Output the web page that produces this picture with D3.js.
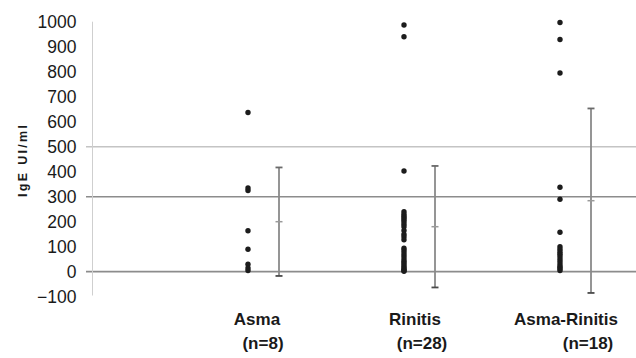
<!DOCTYPE html>
<html>
<head>
<meta charset="utf-8">
<script src="https://cdn.jsdelivr.net/npm/d3@7"></script>
<style>
  html, body { margin: 0; padding: 0; background: #fff; }
  svg { display: block; font-family: "Liberation Sans", Arial, sans-serif; }
</style>
</head>
<body>
<svg id="chart" width="636" height="358"></svg>
<script>
// Groups and their sizes
const categories = ["Asma", "Rinitis", "Asma-Rinitis"];
const groupSizes = ["(n=8)", "(n=28)", "(n=18)"];

// Individual IgE values (UI/ml) per group
const asmaValues = [637, 335, 325, 164, 90, 30, 15, 5];
const rinitisValues = [987, 940, 403, 240, 230, 222, 215, 208, 200, 190, 180, 165, 150, 140, 128,
                       94, 85, 75, 65, 55, 45, 38, 30, 22, 15, 10, 5, 2];
const asmaRinitisValues = [997, 929, 795, 338, 290, 158, 100, 90, 80, 72, 65, 55, 45, 35, 25, 18, 12, 5];

// Group mean and standard deviation
const means = [200, 180, 284];
const sds = [217, 243, 369];

// Horizontal reference levels
const refLevels = [500, 300, 0];

// Y axis tick labels
const yTicks = [-100, 0, 100, 200, 300, 400, 500, 600, 700, 800, 900, 1000];

const seriesValues = [asmaValues, rinitisValues, asmaRinitisValues];

const svg = d3.select("#chart");
const axisX = 92.5;
const errOffset = 31;
const labelDx = [9, 11, 6];
const nLabelDx = [15, 18, 28];

const y = d3.scaleLinear().domain([-100, 1000]).range([296.7, 21.7]);
const x = d3.scalePoint().domain(categories).range([248, 560]);

// Reference lines
const refStyle = {500: ["#c4c4c4", 1.5], 300: ["#8c8c8c", 1.6], 0: ["#8c8c8c", 1.8]};
svg.append("g").selectAll("line").data(refLevels).join("line")
  .attr("x1", 86).attr("x2", 636)
  .attr("y1", d => y(d)).attr("y2", d => y(d))
  .attr("stroke", d => refStyle[d][0])
  .attr("stroke-width", d => refStyle[d][1]);

// Y axis
const yAxis = d3.axisLeft(y).tickValues(yTicks).tickSize(0).tickPadding(16)
  .tickFormat(d3.format("d"));
const gy = svg.append("g").attr("transform", `translate(${axisX},0)`).call(yAxis);
gy.select(".domain").remove();
gy.selectAll("text")
  .attr("font-family", "'Liberation Sans', Arial, sans-serif")
  .attr("font-size", 17.5)
  .attr("fill", "#1a1a1a");
svg.append("line")
  .attr("x1", axisX).attr("x2", axisX)
  .attr("y1", y(1000)).attr("y2", 295.5)
  .attr("stroke", "#cfcfcf").attr("stroke-width", 1);

// Y axis title
svg.append("text")
  .attr("transform", `translate(26.5,${161}) rotate(-90)`)
  .attr("text-anchor", "middle")
  .attr("font-size", 12.5)
  .attr("font-weight", "bold")
  .attr("fill", "#1a1a1a")
  .attr("textLength", 72)
  .attr("lengthAdjust", "spacing")
  .text("IgE UI/ml");

// Error bars (mean ± SD)
const eb = svg.append("g").selectAll("g").data(categories).join("g")
  .attr("transform", d => `translate(${x(d) + errOffset},0)`);
eb.append("line")
  .attr("y1", (d, i) => y(means[i] + sds[i]))
  .attr("y2", (d, i) => y(means[i] - sds[i]))
  .attr("stroke", "#8a8a8a").attr("stroke-width", 1.8);
eb.append("line")
  .attr("x1", -3.5).attr("x2", 3.5)
  .attr("y1", (d, i) => y(means[i] + sds[i]))
  .attr("y2", (d, i) => y(means[i] + sds[i]))
  .attr("stroke", "#6a6a6a").attr("stroke-width", 1.8);
eb.append("line")
  .attr("x1", -3.5).attr("x2", 3.5)
  .attr("y1", (d, i) => y(means[i] - sds[i]))
  .attr("y2", (d, i) => y(means[i] - sds[i]))
  .attr("stroke", "#4a4a4a").attr("stroke-width", 1.8);
eb.append("line")
  .attr("x1", -3.5).attr("x2", 3.5)
  .attr("y1", (d, i) => y(means[i]))
  .attr("y2", (d, i) => y(means[i]))
  .attr("stroke", "#9a9a9a").attr("stroke-width", 1.5);

// Individual points
const pts = svg.append("g");
categories.forEach((c, i) => {
  pts.selectAll(null).data(seriesValues[i]).join("circle")
    .attr("cx", x(c))
    .attr("cy", d => y(d))
    .attr("r", 2.7)
    .attr("fill", "#1c1c1c");
});

// Category labels
const lab = svg.append("g").attr("font-weight", "bold").attr("font-size", 17)
  .attr("fill", "#1a1a1a").attr("text-anchor", "middle");
lab.selectAll(".cat").data(categories).join("text")
  .attr("class", "cat")
  .attr("x", (d, i) => x(d) + labelDx[i])
  .attr("y", 325)
  .text(d => d);
lab.selectAll(".n").data(groupSizes).join("text")
  .attr("class", "n")
  .attr("x", (d, i) => x(categories[i]) + nLabelDx[i])
  .attr("y", 349)
  .text(d => d);
</script>
</body>
</html>
